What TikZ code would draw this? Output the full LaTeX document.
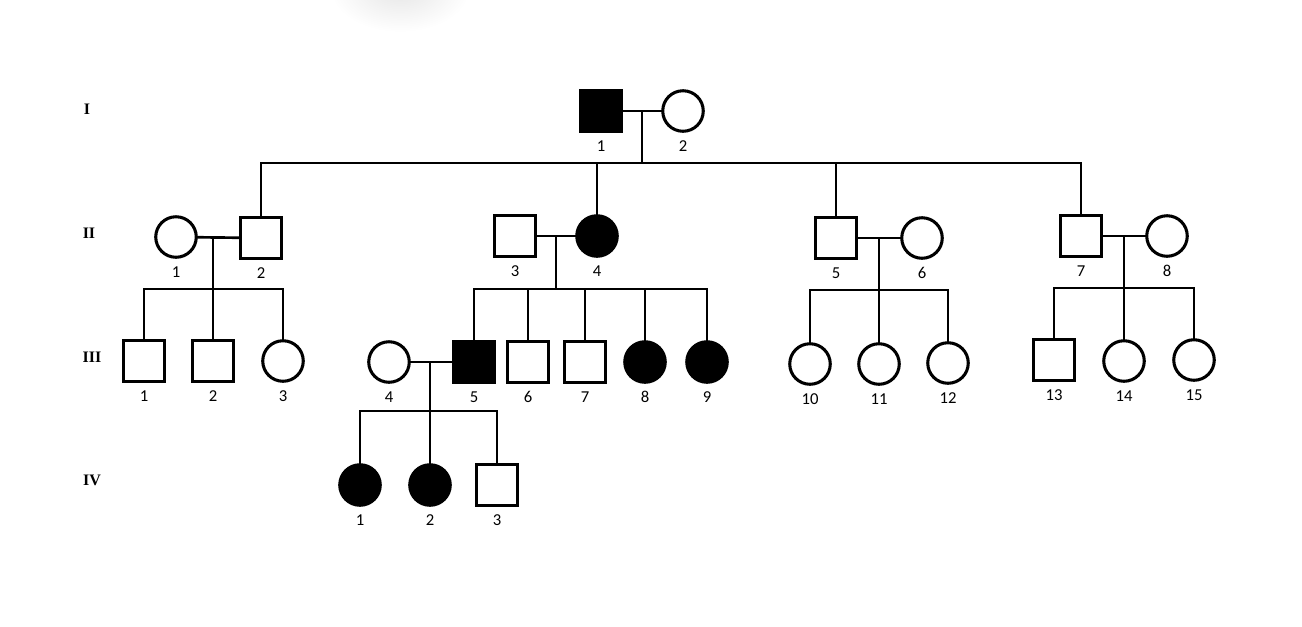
\documentclass[tikz,border=0pt]{standalone}
\usepackage{fontspec}
\usepackage{tikz}
\usetikzlibrary{calc}
\newfontfamily\numfamily{Carlito}
\newfontfamily\genfamily{Liberation Serif}
\tikzset{
  pline/.style={line width=2pt},
  pbox/.style={draw, line width=2.3pt, inner sep=0pt, outer sep=0pt, minimum size=30.4pt},
  pm/.style={pbox, rectangle},
  pf/.style={pbox, circle},
  paff/.style={fill=black},
  pnum/.style={font=\fontsize{12.5}{14}\selectfont\numfamily, inner sep=0pt},
  pgen/.style={font=\fontsize{12}{14}\selectfont\genfamily\bfseries, inner sep=0pt}
}
\newcommand{\pind}[5]{%
  \node[#2] (#1) at (#3,#4) {};
  \node[pnum] (#1n) at ({#3},{#4+35}) {#5};}
\newcommand{\pmate}[4][0]{%
  \draw[pline] (#2) -- (#3);
  \coordinate (#4) at ($(#2)!0.5!(#3)+(#1,0)$);}
\newcommand{\psibs}[3]{%
  \coordinate (#1s) at (#1 |- 0,#2);
  \draw[pline] (#1) -- (#1s);
  \foreach \kid in {#3}{\draw[pline] (\kid.north) |- (#1s);}}

\begin{document}
\begin{tikzpicture}[x=0.75pt,y=-0.75pt]
  \useasboundingbox (0,0) rectangle (1302,626);
  \begin{scope}
    \clip (0,0) rectangle (1302,626);
    \shade[inner color=black!10, outer color=white] (400,-12) ellipse (70 and 44);
  \end{scope}
  % generations
  \node[pgen] (gI) at (87,109) {I};
  \node[pgen] (gII) at (89,233) {II};
  \node[pgen] (gIII) at (92,357) {III};
  \node[pgen] (gIV) at (92,480) {IV};
  % I
  \pind{i1}{pm,paff}{601}{111}{1} \pind{i2}{pf}{683}{111}{2}
  \pmate{i1}{i2}{mI}
  % II
  \pind{ii1}{pf}{176}{237}{1} \pind{ii2}{pm}{261}{238}{2}
  \pind{ii3}{pm}{515}{236}{3} \pind{ii4}{pf,paff}{597}{236}{4}
  \pind{ii5}{pm}{836}{238}{5} \pind{ii6}{pf}{922}{238}{6}
  \pind{ii7}{pm}{1081}{236}{7} \pind{ii8}{pf}{1167}{236}{8}
  \psibs{mI}{163}{ii2,ii4,ii5,ii7}
  \pmate[-5.5]{ii1}{ii2}{mA} \pmate{ii3}{ii4}{mB}
  \pmate{ii5}{ii6}{mC} \pmate{ii7}{ii8}{mD}
  % III
  \pind{iii1}{pm}{144}{361}{1} \pind{iii2}{pm}{213}{361}{2}
  \pind{iii3}{pf}{283}{361}{3}
  \pind{iii4}{pf}{389}{362}{4} \pind{iii5}{pm,paff}{474}{362}{5}
  \pind{iii6}{pm}{528}{362}{6} \pind{iii7}{pm}{585}{362}{7}
  \pind{iii8}{pf,paff}{645}{362}{8} \pind{iii9}{pf,paff}{707}{362}{9}
  \pind{iii10}{pf}{810}{364}{10} \pind{iii11}{pf}{879}{364}{11}
  \pind{iii12}{pf}{948}{363}{12}
  \pind{iii13}{pm}{1054}{360}{13} \pind{iii14}{pf}{1124}{361}{14}
  \pind{iii15}{pf}{1194}{360}{15}
  \psibs{mA}{289}{iii1,iii2,iii3}
  \psibs{mB}{289}{iii5,iii6,iii7,iii8,iii9}
  \psibs{mC}{290}{iii10,iii11,iii12}
  \psibs{mD}{288}{iii13,iii14,iii15}
  \pmate[-1.5]{iii4}{iii5}{mE}
  % IV
  \pind{iv1}{pf,paff}{360}{485}{1} \pind{iv2}{pf,paff}{430}{485}{2}
  \pind{iv3}{pm}{497}{485}{3}
  \psibs{mE}{411}{iv1,iv2,iv3}
\end{tikzpicture}
\end{document}
